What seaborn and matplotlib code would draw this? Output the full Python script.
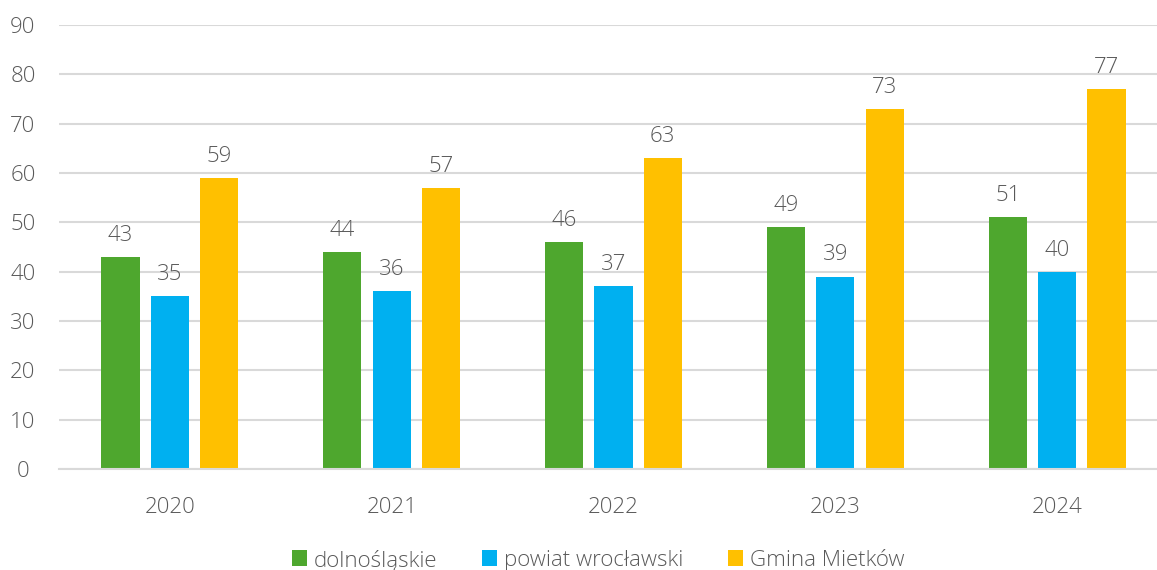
import matplotlib
matplotlib.use("Agg")
import matplotlib.pyplot as plt
import pandas as pd
import seaborn as sns

years = ["2020", "2021", "2022", "2023", "2024"]
dolnoslaskie = [43, 44, 46, 49, 51]
powiat = [35, 36, 37, 39, 40]
gmina = [59, 57, 63, 73, 77]
series_names = ["dolnośląskie", "powiat wrocławski", "Gmina Mietków"]
colors = ["#4EA72E", "#00B0F0", "#FFC000"]
yticks = [0, 10, 20, 30, 40, 50, 60, 70, 80, 90]

rows = []
for name, vals in zip(series_names, [dolnoslaskie, powiat, gmina]):
  for y, v in zip(years, vals):
    rows.append({"year": y, "value": v, "series": name})
df = pd.DataFrame(rows)

sns.set_style("white")
plt.rcParams['font.family'] = ['Open Sans', 'DejaVu Sans']
plt.rcParams['font.weight'] = 'light'
grey = "#595959"

fig = plt.figure(figsize=(11.57, 5.70), dpi=100)
ax = fig.add_axes([59 / 1157, 1 - 469 / 570, 1109 / 1157, 444 / 570])

sns.barplot(data=df, x="year", y="value", hue="series", palette=colors,
            width=0.667, gap=0.225, ax=ax, legend=True, saturation=1,
            linewidth=0)

for cont in ax.containers:
  ax.bar_label(cont, fontsize=16, color=grey, padding=8)

ax.set_ylim(0, 90)
ax.set_xlim(-0.5, 4.5)
ax.set_yticks(yticks)
ax.yaxis.grid(True, color="#D9D9D9", linewidth=1.5)
ax.set_axisbelow(True)
for s in ["top", "right", "left"]:
  ax.spines[s].set_visible(False)
ax.spines["bottom"].set_color("#D9D9D9")
ax.spines["bottom"].set_linewidth(1.5)
ax.tick_params(axis="both", length=0, labelsize=16, colors=grey)
ax.tick_params(axis="x", pad=20)
ax.tick_params(axis="y", pad=26)
for lbl in ax.get_yticklabels():
  lbl.set_horizontalalignment("center")
ax.set_xlabel("")
ax.set_ylabel("")

ax.legend(loc="center", bbox_to_anchor=(598 / 1157, 1 - 560 / 570),
          bbox_transform=fig.transFigure, ncol=3, frameon=False,
          fontsize=16, labelcolor=grey, handlelength=0.7, handleheight=0.7,
          handletextpad=0.3, columnspacing=2.0)

fig.savefig("out.png", dpi=100)
